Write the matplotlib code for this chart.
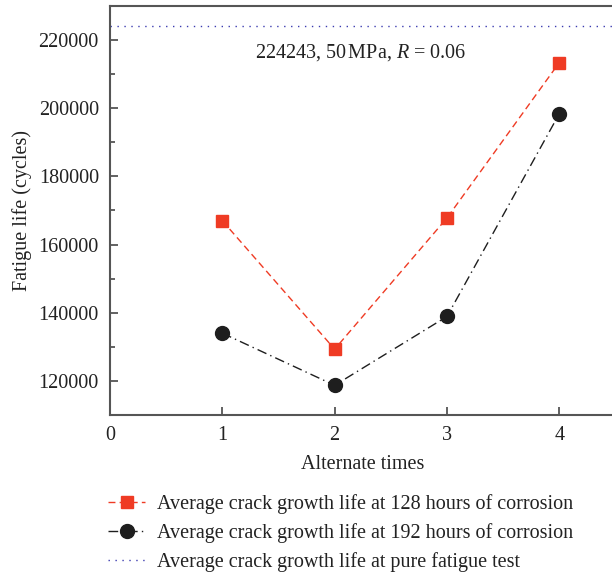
import matplotlib.pyplot as plt
from matplotlib.ticker import MultipleLocator

plt.rcParams['font.family'] = ['Liberation Serif', 'DejaVu Serif']
plt.rcParams['mathtext.fontset'] = 'custom'
plt.rcParams['mathtext.it'] = 'Liberation Serif:italic'
plt.rcParams['mathtext.rm'] = 'Liberation Serif'

# fatigue life per number of alternations
alternations = [1, 2, 3, 4]
life_128h = [167000, 129300, 167800, 213400]
life_192h = [134000, 118700, 138900, 198400]
pure_fatigue = 224243
pure_label = '224243, 50$\\,$MPa, $R$ = 0.06'

series_labels = [
    'Average crack growth life at 128 hours of corrosion',
    'Average crack growth life at 192 hours of corrosion',
    'Average crack growth life at pure fatigue test',
]

fs = 14.5
ink = '#222222'

fig = plt.figure(figsize=(6.12, 5.75), dpi=100)
ax = fig.add_axes([0.1797, 0.2783, 0.826, 0.7113])

ax.plot(alternations, life_128h, color='#ef3b24', linestyle=(0, (5, 3)), lw=1.0,
        marker='s', markersize=8, label=series_labels[0])
ax.plot(alternations, life_192h, color='#1e1e1e', linestyle=(0, (7, 3, 1, 3)), lw=1.0,
        marker='o', markersize=10, label=series_labels[1])
ax.axhline(pure_fatigue, color='#3b3bb0', linestyle=(0, (1, 4)), lw=1.0,
           label=series_labels[2])
ax.text(2.23, 216300, pure_label, ha='center', va='center', fontsize=fs, color=ink)

ax.set_xlim(0, 4.5)
ax.set_ylim(110000, 230000)
ax.set_xticks([0, 1, 2, 3, 4])
ax.yaxis.set_major_locator(MultipleLocator(20000))
ax.yaxis.set_minor_locator(MultipleLocator(10000))
ax.set_yticks([120000, 140000, 160000, 180000, 200000, 220000])

for side in ['left', 'bottom', 'top']:
    ax.spines[side].set_color('#555555')
    ax.spines[side].set_linewidth(1.5)
ax.spines['right'].set_visible(False)

ax.tick_params(axis='both', which='major', direction='in', length=6, width=1.3,
               color='#555555', labelsize=fs, labelcolor=ink, pad=8)
ax.tick_params(axis='y', which='minor', direction='in', length=3.5, width=1.3, color='#555555')
ax.tick_params(axis='x', which='both', top=False)

ax.set_xlabel('Alternate times', fontsize=fs, color=ink, labelpad=7)
ax.set_ylabel('Fatigue life (cycles)', fontsize=fs, color=ink, labelpad=5)

fig.legend(loc='upper left', bbox_to_anchor=(0.147, 0.172), frameon=False,
           fontsize=fs, handlelength=1.85, handletextpad=0.6, labelspacing=0.45,
           labelcolor=ink)

fig.savefig('out.png', dpi=100)
